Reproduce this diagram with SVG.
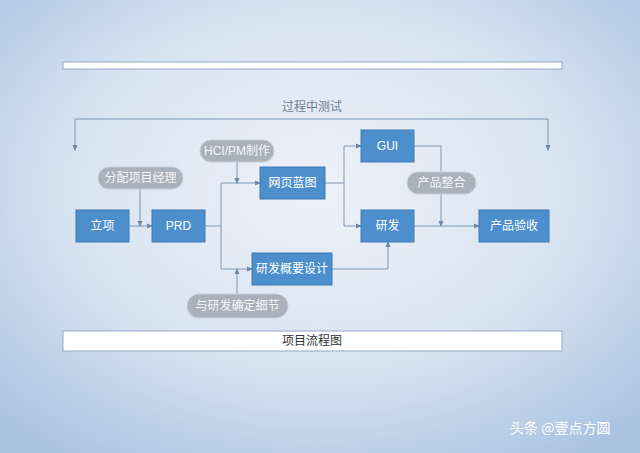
<svg xmlns="http://www.w3.org/2000/svg" width="640" height="453" viewBox="0 0 640 453">
<defs>
<radialGradient id="bg" cx="0.5" cy="0.42" r="0.72">
<stop offset="0" stop-color="#eef2f8"/><stop offset="0.55" stop-color="#d8e3f1"/><stop offset="1" stop-color="#a9c2e2"/>
</radialGradient>
<marker id="a" viewBox="0 0 6 6" refX="5" refY="3" markerWidth="6" markerHeight="6" orient="auto"><path d="M0,0.5 L6,3 L0,5.5Z" fill="#6f88a6"/></marker>
<style>
.box{fill:#4d8fcc;stroke:#3e7ab5;stroke-width:1}
.pill{fill:#a9b1bb;stroke:#c8ced6;stroke-width:1}
.bt{font-family:"Liberation Sans","Noto Sans CJK SC",sans-serif;font-size:12px;fill:#fff;text-anchor:middle;dominant-baseline:central}
.pt{font-family:"Liberation Sans","Noto Sans CJK SC",sans-serif;font-size:12px;fill:#f4f6f8;text-anchor:middle;dominant-baseline:central}
.ln{fill:none;stroke:#7f98b4;stroke-width:1}
</style>
</defs>
<rect width="640" height="453" fill="url(#bg)"/>
<rect x="63" y="62" width="499" height="7" fill="#fff" stroke="#8fa9c8"/>
<g id="title"><rect x="63" y="331" width="499" height="20" fill="#fff" stroke="#8fa9c8"/>
<text x="312" y="341" class="bt" style="fill:#333">项目流程图</text></g>
<text x="312" y="107" class="bt" style="fill:#6f7e8e">过程中测试</text>
<g id="connectors">
<path class="ln" d="M312,119 H75 V150" marker-end="url(#a)"/>
<path class="ln" d="M312,119 H548 V150" marker-end="url(#a)"/>
<path class="ln" d="M129,226 H152" marker-end="url(#a)"/>
<path class="ln" d="M140,189 V226" marker-end="url(#a)"/>
<path class="ln" d="M205,226 H221 M221,183 V269"/>
<path class="ln" d="M221,183 H260" marker-end="url(#a)"/>
<path class="ln" d="M221,269 H252" marker-end="url(#a)"/>
<path class="ln" d="M237,162 V183" marker-end="url(#a)"/>
<path class="ln" d="M237,293 V269" marker-end="url(#a)"/>
<path class="ln" d="M325,183 H344 M344,146 V226"/>
<path class="ln" d="M344,146 H361" marker-end="url(#a)"/>
<path class="ln" d="M344,226 H361" marker-end="url(#a)"/>
<path class="ln" d="M332,269 H388 V242" marker-end="url(#a)"/>
<path class="ln" d="M414,146 H441 V226" marker-end="url(#a)"/>
<path class="ln" d="M414,226 H479" marker-end="url(#a)"/>
</g>
<g id="n1"><rect class="box" x="76" y="210" width="53" height="32"/><text class="bt" x="102.5" y="226">立项</text></g>
<g id="n2"><rect class="box" x="152" y="210" width="53" height="32"/><text class="bt" x="178.5" y="226">PRD</text></g>
<g id="n3"><rect class="box" x="260" y="167" width="65" height="32"/><text class="bt" x="292.5" y="183">网页蓝图</text></g>
<g id="n4"><rect class="box" x="252" y="253" width="80" height="32"/><text class="bt" x="292" y="269">研发概要设计</text></g>
<g id="n5"><rect class="box" x="361" y="130" width="53" height="32"/><text class="bt" x="387.5" y="146">GUI</text></g>
<g id="n6"><rect class="box" x="361" y="210" width="53" height="32"/><text class="bt" x="387.5" y="226">研发</text></g>
<g id="n7"><rect class="box" x="479" y="210" width="70" height="32"/><text class="bt" x="514" y="226">产品验收</text></g>
<g id="p1"><rect class="pill" x="98" y="167" width="85" height="22" rx="11"/><text class="pt" x="140.5" y="178">分配项目经理</text></g>
<g id="p2"><rect class="pill" x="200" y="140" width="74" height="22" rx="11"/><text class="pt" x="237" y="151">HCI/PM制作</text></g>
<g id="p3"><rect class="pill" x="187" y="294" width="101" height="24" rx="12"/><text class="pt" x="237.5" y="306">与研发确定细节</text></g>
<g id="p4"><rect class="pill" x="407" y="172" width="69" height="22" rx="11"/><text class="pt" x="441.5" y="183">产品整合</text></g>
<text x="510" y="433" style="font-family:'Noto Sans CJK SC',sans-serif;font-size:14px;fill:#fff">头条 @壹点方圆</text>
</svg>
